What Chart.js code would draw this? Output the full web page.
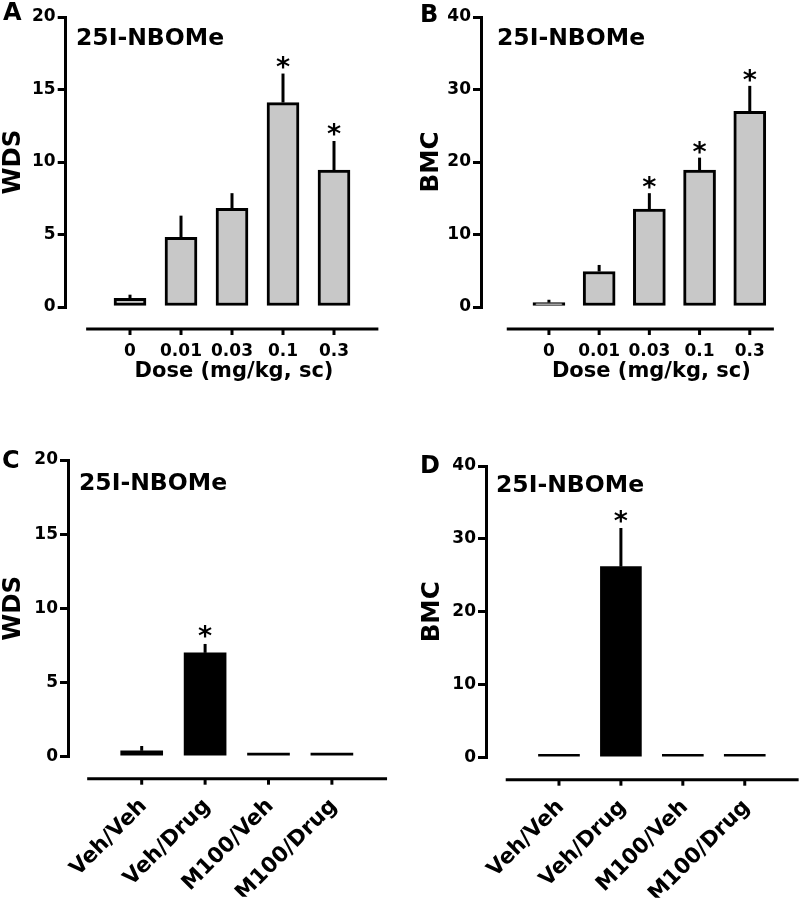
<!DOCTYPE html>
<html><head><meta charset="utf-8">
<script src="https://cdn.jsdelivr.net/npm/chart.js@4.4.1/dist/chart.umd.min.js"></script>
<style>
html,body{margin:0;padding:0;background:#fff;overflow:hidden;width:800px;height:901px}
canvas{position:absolute;left:0;top:0}
</style></head>
<body>
<canvas id="cA" width="800" height="901"></canvas>
<canvas id="cB" width="800" height="901"></canvas>
<canvas id="cC" width="800" height="901"></canvas>
<canvas id="cD" width="800" height="901"></canvas>
<script>
// ---------- data ----------
const doseLabels = ['0', '0.01', '0.03', '0.1', '0.3'];
const groupLabels = ['Veh/Veh', 'Veh/Drug', 'M100/Veh', 'M100/Drug'];
const drugTitle = '25I-NBOMe';
const doseAxisTitle = 'Dose (mg/kg, sc)';

const wdsDoseMean = [0.6, 4.8, 6.8, 14.1, 9.45];
const wdsDoseSem  = [0.25, 1.5, 1.05, 2.0, 2.0];
const wdsDoseSig  = ['', '', '', '*', '*'];

const bmcDoseMean = [0.6, 4.9, 13.5, 18.9, 27.0];
const bmcDoseSem  = [0.4, 0.9, 2.2, 1.7, 3.5];
const bmcDoseSig  = ['', '', '*', '*', '*'];

const wdsAntMean = [0.4, 7.0, 0.25, 0.25];
const wdsAntSem  = [0.32, 0.6, 0, 0];
const wdsAntSig  = ['', '*', '', ''];

const bmcAntMean = [0.45, 26.2, 0.45, 0.45];
const bmcAntSem  = [0, 5.3, 0, 0];
const bmcAntSig  = ['', '*', '', ''];

Chart.defaults.font.family = "'DejaVu Sans'";
Chart.defaults.font.weight = 'bold';
Chart.defaults.font.size = 17;
Chart.defaults.color = '#000';

const panels = [
  {id:'cA', letter:'A', labels:doseLabels, mean:wdsDoseMean, sem:wdsDoseSem, sig:wdsDoseSig, yTitle:'WDS', yMax:20, yStep:5,
   fill:'#c8c8c8', borderW:3, xTitle:doseAxisTitle,
   g:{left:65.7, top:17, bottom:307, right:400, cat0:130, step:51, axisFrom:-0.86, axisTo:4.87, yw:64.7, xh:60,
      tickPad:34, rot:0, xFont:17, labelOffset:0, barW:32, titleX:76, titleY:44.5, letterX:3, letterY:20, xTitleY:377, starGap:5}},
  {id:'cB', letter:'B', labels:doseLabels, mean:bmcDoseMean, sem:bmcDoseSem, sig:bmcDoseSig, yTitle:'BMC', yMax:40, yStep:10,
   fill:'#c8c8c8', borderW:3, xTitle:doseAxisTitle,
   g:{left:481, top:17, bottom:307, right:790, cat0:550, step:51, axisFrom:-0.84, axisTo:4.48, yw:61.25, xh:60,
      tickPad:34, rot:0, xFont:17, labelOffset:0, barW:32, titleX:497, titleY:45, letterX:420, letterY:21.5, xTitleY:377, starGap:4}},
  {id:'cC', letter:'C', labels:groupLabels, mean:wdsAntMean, sem:wdsAntSem, sig:wdsAntSig, yTitle:'WDS', yMax:20, yStep:5,
   fill:'#000', borderW:0, xTitle:null,
   g:{left:68, top:460, bottom:756.7, right:390, cat0:141.7, step:63.4, axisFrom:-0.86, axisTo:3.87, yw:66.25, xh:140,
      tickPad:37, rot:45, xFont:21.5, labelOffset:2, barW:42, titleX:79, titleY:490, letterX:2, letterY:468, xTitleY:0, starGap:6}},
  {id:'cD', letter:'D', labels:groupLabels, mean:bmcAntMean, sem:bmcAntSem, sig:bmcAntSig, yTitle:'BMC', yMax:40, yStep:10,
   fill:'#000', borderW:0, xTitle:null,
   g:{left:486, top:466, bottom:757.7, right:800, cat0:559.3, step:62.2, axisFrom:-0.86, axisTo:3.87, yw:65.75, xh:140,
      tickPad:37, rot:45, xFont:21.5, labelOffset:2, barW:41, titleX:496, titleY:491.5, letterX:420, letterY:473, xTitleY:0, starGap:5}}
];

function decor(P){
  const G = P.g;
  return {
    id: 'decor' + P.letter,
    afterDatasetsDraw(chart){
      const {ctx, chartArea: ca, scales: {x, y}} = chart;
      ctx.save();
      ctx.strokeStyle = '#000'; ctx.fillStyle = '#000'; ctx.lineWidth = 3; ctx.lineCap = 'butt';
      const meta = chart.getDatasetMeta(0);
      ctx.font = "bold 27px 'DejaVu Sans'";
      ctx.textAlign = 'center'; ctx.textBaseline = 'alphabetic';
      const m = ctx.measureText('*');
      meta.data.forEach((bar, i) => {
        let top = bar.y;
        if (P.sem[i] > 0) {
          top = y.getPixelForValue(P.mean[i] + P.sem[i]);
          ctx.beginPath(); ctx.moveTo(bar.x, bar.y); ctx.lineTo(bar.x, top); ctx.stroke();
        }
        if (P.sig[i]) ctx.fillText(P.sig[i], bar.x, top - G.starGap - m.actualBoundingBoxDescent);
      });
      // detached x axis line + tick marks
      const ly = ca.bottom + 22;
      ctx.beginPath();
      ctx.moveTo(x.getPixelForValue(G.axisFrom), ly);
      ctx.lineTo(x.getPixelForValue(G.axisTo), ly);
      ctx.stroke();
      P.labels.forEach((_, i) => {
        const px = x.getPixelForValue(i);
        ctx.beginPath(); ctx.moveTo(px, ly); ctx.lineTo(px, ly + 6); ctx.stroke();
      });
      // texts
      ctx.textAlign = 'left';
      ctx.font = "bold 24px 'DejaVu Sans'";
      ctx.fillText(P.letter, G.letterX, G.letterY);
      ctx.font = "bold 23.5px 'DejaVu Sans'";
      ctx.fillText(drugTitle, G.titleX, G.titleY);
      if (P.xTitle) {
        ctx.textAlign = 'center';
        ctx.font = "bold 21px 'DejaVu Sans'";
        ctx.fillText(P.xTitle, x.getPixelForValue((P.labels.length - 1) / 2) + 2, G.xTitleY);
      }
      ctx.restore();
    }
  };
}

function build(P){
  const G = P.g;
  const xmin = (G.left - G.cat0) / G.step, xmax = (G.right - G.cat0) / G.step;
  new Chart(document.getElementById(P.id), {
    type: 'bar',
    data: { datasets: [{
      data: P.mean.map((v, i) => ({x: i, y: v})),
      backgroundColor: P.fill, borderColor: '#000', borderWidth: P.borderW,
      borderSkipped: false, barThickness: G.barW, clip: false
    }]},
    options: {
      responsive: false, animation: false, devicePixelRatio: 1,
      layout: { padding: { left: G.left - G.yw, top: G.top, right: 800 - G.right, bottom: 901 - G.bottom - G.xh } },
      plugins: { legend: {display: false}, tooltip: {enabled: false} },
      scales: {
        x: {
          type: 'linear', min: xmin, max: xmax, offset: false,
          grid: {display: false, drawTicks: false}, border: {display: false},
          ticks: { autoSkip: false, maxRotation: G.rot, minRotation: G.rot, padding: G.tickPad,
                   labelOffset: G.labelOffset, color: '#000', font: {size: G.xFont},
                   callback: (v) => (P.labels[v] !== undefined ? P.labels[v] : '') },
          afterBuildTicks: (s) => { s.ticks = P.labels.map((_, i) => ({value: i})); },
          afterFit: (s) => { s.height = G.xh; }
        },
        y: {
          min: 0, max: P.yMax,
          ticks: { stepSize: P.yStep, padding: 2, color: '#000', font: {size: 17} },
          grid: { drawOnChartArea: false, color: '#000', lineWidth: 3, tickLength: 8 },
          border: { display: true, color: '#000', width: 3 },
          title: { display: true, text: P.yTitle, color: '#000', font: {size: 24.5, lineHeight: 1}, padding: 0 },
          afterFit: (s) => { s.width = G.yw; }
        }
      }
    },
    plugins: [decor(P)]
  });
}

panels.forEach(build);
</script>
</body></html>
